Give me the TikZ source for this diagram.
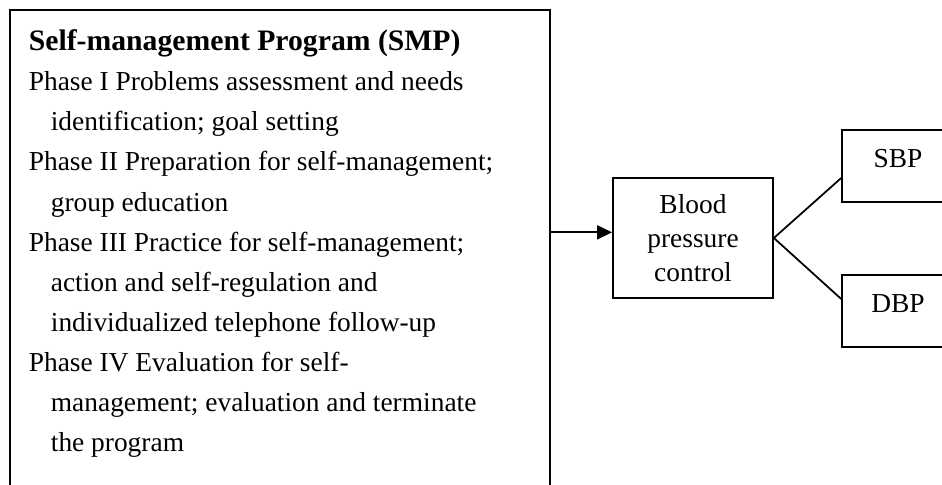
\documentclass[tikz,border=0pt]{standalone}
\usepackage{fontspec}
\setmainfont{Liberation Serif}
\usetikzlibrary{arrows.meta}

\begin{document}
\begin{tikzpicture}[
    x=1cm,y=1cm,line width=1pt,
    font=\fontsize{15.6pt}{22.8pt}\selectfont,
    box/.style={draw,rectangle},
    program/.style={box,anchor=north west,text width=10.04cm,align=flush left,
      inner xsep=.38cm,inner ysep=.40cm},
    outcome/.style={box,align=center,minimum width=3.2cm,minimum height=2.4cm,
      inner sep=0pt,font=\fontsize{15.6pt}{19.4pt}\selectfont},
    measure/.style={box,minimum width=2.24cm,minimum height=1.44cm,inner sep=0pt,
      text height=.4cm,text depth=.32cm},
    link/.style={black,line width=1pt},
    flow/.style={link,-{Triangle[length=.3cm,width=.28cm]}}
  ]
    % The page shows only part of the figure: both sides run off the edge.
    \useasboundingbox (0,0) rectangle (18.84,9.70);
    \clip (0,0) rectangle (18.84,9.70);

    % Intervention box, its lower edge lies below the page.
    \node[program] (smp) at (.18,9.52) {%
      {\fontsize{16.9pt}{22.8pt}\selectfont\bfseries Self-management Program (SMP)}\\
      Phase I Problems assessment and needs\\
      \hspace*{.44cm}identification; goal setting\\
      Phase II Preparation for self-management;\\
      \hspace*{.44cm}group education\\
      Phase III Practice for self-management;\\
      \hspace*{.44cm}action and self-regulation and\\
      \hspace*{.44cm}individualized telephone follow-up\\
      Phase IV Evaluation for self-\\
      \hspace*{.44cm}management; evaluation and terminate\\
      \hspace*{.44cm}the program\rule[-2cm]{0pt}{0pt}};

    % Outcome and its two measures.
    \node[outcome] (bp) at (13.86,4.94) {Blood\\pressure\\control};
    \node[measure] (sbp) at (17.96,6.38) {SBP};
    \node[measure] (dbp) at (17.96,3.48) {DBP};

    \draw[flow] (smp.east |- bp.176) -- (bp.176);
    \draw[link] (bp.east) -- (sbp.192);
    \draw[link] (bp.east) -- (dbp.168);
  \end{tikzpicture}
\end{document}
